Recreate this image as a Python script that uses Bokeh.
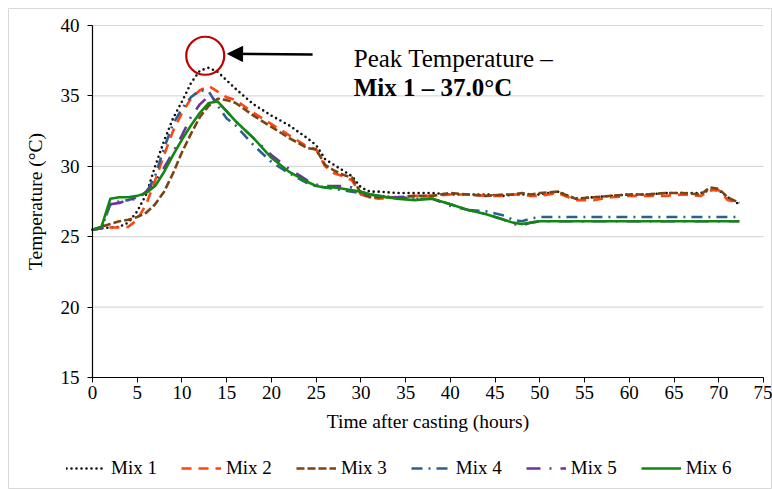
from bokeh.plotting import figure
from bokeh.models import (Legend, LegendItem, Label, Arrow, NormalHead, LinearAxis,
                          FixedTicker, Range1d, ColumnDataSource)
from bokeh.embed import file_html
from bokeh.resources import INLINE

# ---------------- data ----------------
hours = [0, 1, 2, 3, 4, 5, 6, 7, 8, 9, 10, 11, 12, 13, 14, 15, 16,
         18, 20, 22, 24,
         25, 26, 27, 28, 29, 30, 31, 32,
         34, 36, 38, 40, 42, 44, 46,
         47, 48, 49, 50,
         52, 54, 56, 58, 60, 62, 64, 66, 68,
         69, 70, 71, 72.3]

mix1 = [25.5, 25.6, 25.65, 25.7, 26.0, 26.8, 28.0, 30.0, 31.8, 33.4, 34.6, 35.9, 36.8, 37.0, 36.7, 36.1, 35.5,
        34.4, 33.6, 32.9, 32.0,
        31.5, 30.5, 30.1, 29.7, 29.3, 28.5, 28.2, 28.2,
        28.1, 28.1, 28.1, 28.0, 28.0, 28.0, 27.9,
        28.0, 28.0, 28.0, 28.0,
        28.2, 27.7, 27.8, 27.9, 28.0, 28.0, 28.1, 28.1, 28.1,
        28.3, 28.3, 27.8, 27.3]

mix2 = [25.5, 25.6, 25.65, 25.65, 25.7, 26.2, 27.3, 29.0, 30.8, 32.5, 33.8, 34.8, 35.4, 35.7, 35.3, 34.9, 34.7,
        33.8, 33.0, 32.2, 31.4,
        31.2, 30.0, 29.5, 29.3, 29.0, 28.0, 27.8, 27.7,
        27.8, 27.9, 27.9, 28.0, 28.0, 27.9, 27.9,
        28.0, 28.0, 27.9, 27.9,
        28.1, 27.6, 27.6, 27.8, 27.9, 27.9, 27.9, 28.0, 27.9,
        28.3, 28.3, 27.6, 27.4]

mix3 = [25.5, 25.7, 25.9, 26.1, 26.2, 26.4, 26.7, 27.3, 28.2, 29.5, 31.0, 32.3, 33.5, 34.3, 34.8, 34.7, 34.5,
        33.6, 32.8, 32.0, 31.3,
        31.2, 30.1, 29.7, 29.4, 29.2, 28.1, 27.8, 27.8,
        27.8, 27.9, 27.9, 28.1, 28.0, 27.9, 28.0,
        28.0, 28.1, 28.0, 28.1,
        28.2, 27.7, 27.8, 27.9, 28.0, 28.0, 28.1, 28.1, 28.0,
        28.5, 28.4, 27.8, 27.4]

mix4 = [25.5, 25.6, 27.3, 27.5, 27.6, 27.8, 28.1, 29.3, 31.3, 33.0, 34.1, 34.9, 35.4, 35.3, 34.3, 33.4, 32.9,
        31.5, 30.3, 29.5, 28.8,
        28.6, 28.5, 28.4, 28.3, 28.2, 28.1, 28.0, 27.9,
        27.8, 27.7, 27.7, 27.3, 26.9, 26.8, 26.5,
        26.2, 26.1, 26.3, 26.4,
        26.4, 26.4, 26.4, 26.4, 26.4, 26.4, 26.4, 26.4, 26.4,
        26.4, 26.4, 26.4, 26.4]

mix5 = [25.5, 25.6, 27.3, 27.4, 27.6, 27.7, 28.2, 28.9, 29.9, 31.0, 32.2, 33.5, 34.4, 35.0, 34.6, 33.9, 33.2,
        32.0, 30.8, 29.8, 29.0,
        28.7, 28.6, 28.6, 28.6, 28.5, 28.2, 28.0, 27.9,
        27.8, 27.7, 27.7, 27.2, 26.9, 26.6, 26.2,
        25.9, 25.8, 26.0, 26.1,
        26.1, 26.1, 26.1, 26.1, 26.1, 26.1, 26.1, 26.1, 26.1,
        26.1, 26.1, 26.1, 26.1]

mix6 = [25.5, 25.7, 27.7, 27.8, 27.8, 27.9, 28.1, 28.6, 29.6, 30.8, 31.9, 32.9, 33.8, 34.5, 34.6, 33.9, 33.2,
        32.0, 30.6, 29.6, 28.9,
        28.6, 28.5, 28.5, 28.4, 28.3, 28.2, 28.0, 27.9,
        27.7, 27.6, 27.7, 27.3, 26.9, 26.6, 26.2,
        26.0, 25.9, 26.0, 26.1,
        26.1, 26.1, 26.1, 26.1, 26.1, 26.1, 26.1, 26.1, 26.1,
        26.1, 26.1, 26.1, 26.1]

series_names = ["Mix 1", "Mix 2", "Mix 3", "Mix 4", "Mix 5", "Mix 6"]
x_ticks = list(range(0, 76, 5))
y_ticks = [15, 20, 25, 30, 35, 40]
annot_line1 = "Peak Temperature \u2013"
annot_line2 = "Mix 1 \u2013 37.0\u00b0C"

# ---------------- layout (pixels) ----------------
W, H = 772, 489
PLOT_L, PLOT_R, PLOT_T, PLOT_B = 92, 763, 25, 377   # axes box in page pixels
BOX_L, BOX_R, BOX_T, BOX_B = 8, 771, 8, 488          # chart-area border
X0, X1 = x_ticks[0], x_ticks[-1]
Y0, Y1 = y_ticks[0], y_ticks[-1]
px_x = (PLOT_R - PLOT_L) / (X1 - X0)
px_y = (PLOT_B - PLOT_T) / (Y1 - Y0)
xr = Range1d(X0 - PLOT_L / px_x, X1 + (W - PLOT_R) / px_x)
yr = Range1d(Y0 - (H - PLOT_B) / px_y, Y1 + PLOT_T / px_y)

FONT = "Liberation Serif"
styles = [
    dict(color="#111111", dash="0 5", width=2.6, cap="round"),
    dict(color="#FF4411", dash="10 7", width=2.6, cap="butt"),
    dict(color="#7B4410", dash="8 3", width=2.6, cap="butt"),
    dict(color="#2F5F8F", dash="11 6 2 6", width=2.6, cap="butt"),
    dict(color="#7030A0", dash="14 9 2 9", width=2.6, cap="butt"),
    dict(color="#118811", dash="solid", width=2.6, cap="butt"),
]

p = figure(frame_width=W, frame_height=H, x_range=xr, y_range=yr,
           x_axis_location=None, y_axis_location=None,
           output_backend="svg", toolbar_location=None,
           min_border=0)
p.background_fill_color = "white"
p.border_fill_color = "white"
p.outline_line_color = None
p.xgrid.visible = False
p.ygrid.visible = False

# chart-area border (thin grey box)
bx0 = X0 - (PLOT_L - BOX_L) / px_x
bx1 = X0 + (BOX_R - PLOT_L) / px_x
by0 = Y0 - (BOX_B - PLOT_B) / px_y
by1 = Y0 + (PLOT_B - BOX_T) / px_y
p.quad(left=[bx0], right=[bx1], bottom=[by0], top=[by1],
       fill_color=None, line_color="#D9D9D9", line_width=1)

# horizontal gridlines
grid_y = y_ticks[1:]
p.segment(x0=[X0] * len(grid_y), x1=[X1] * len(grid_y), y0=grid_y, y1=grid_y,
          line_color="#D9D9D9", line_width=1.2)

xaxis = LinearAxis(fixed_location=Y0, bounds=(X0, X1), ticker=FixedTicker(ticks=x_ticks),
                   axis_label="Time after casting (hours)")
yaxis = LinearAxis(fixed_location=X0, bounds=(Y0, Y1), ticker=FixedTicker(ticks=y_ticks),
                   axis_label="Temperature (\u00b0C)")
for ax in (xaxis, yaxis):
    ax.axis_line_color = "black"
    ax.axis_line_width = 1.2
    ax.major_tick_line_color = "black"
    ax.major_tick_out = 5
    ax.major_tick_in = 0
    ax.minor_tick_line_color = None
    ax.major_label_text_font = FONT
    ax.major_label_text_font_size = "19px"
    ax.major_label_text_color = "black"
    ax.axis_label_text_font = FONT
    ax.axis_label_text_font_size = "19.5px"
    ax.axis_label_text_font_style = "normal"
    ax.axis_label_text_color = "black"
xaxis.major_label_standoff = 3
xaxis.axis_label_standoff = 9
yaxis.major_label_standoff = 8
yaxis.axis_label_standoff = 12
p.add_layout(xaxis, "below")
p.add_layout(yaxis, "left")

data = [mix1, mix2, mix3, mix4, mix5, mix6]
items = []
for name, vals, st in zip(series_names, data, styles):
    src = ColumnDataSource(dict(x=hours, y=vals))
    r = p.line("x", "y", source=src, line_color=st["color"], line_width=st["width"],
               line_dash=st["dash"], line_cap=st["cap"], line_join="round")
    items.append(LegendItem(label=name, renderers=[r]))

legend = Legend(items=items, orientation="horizontal", location=(66, 10),
                label_text_font=FONT, label_text_font_size="19px",
                label_text_color="black",
                glyph_width=40, label_standoff=5, spacing=24,
                border_line_color=None, background_fill_alpha=0,
                margin=0, padding=2)
p.add_layout(legend, "center")

# ---------------- peak annotation ----------------
i_peak = max(range(len(mix1)), key=lambda i: mix1[i])
peak_t, peak_v = hours[i_peak], mix1[i_peak]
p.scatter([peak_t - 0.4], [peak_v + 0.85], marker="circle", size=38,
          fill_color=None, line_color="#C00000", line_width=2.2)
p.add_layout(Arrow(end=NormalHead(size=15, fill_color="black", line_color="black"),
                   x_start=peak_t + 11.6, y_start=peak_v + 0.94,
                   x_end=peak_t + 2.1, y_end=peak_v + 0.99,
                   line_color="black", line_width=2.5))
p.add_layout(Label(x=peak_t + 16.2, y=peak_v + 0.66, text=annot_line1,
                   text_font=FONT, text_font_size="25px", text_color="black",
                   text_baseline="alphabetic"))
p.add_layout(Label(x=peak_t + 16.2, y=peak_v - 1.4, text=annot_line2,
                   text_font=FONT, text_font_size="25px", text_font_style="bold",
                   text_color="black", text_baseline="alphabetic"))

open("out.html", "w").write(file_html(p, INLINE))
